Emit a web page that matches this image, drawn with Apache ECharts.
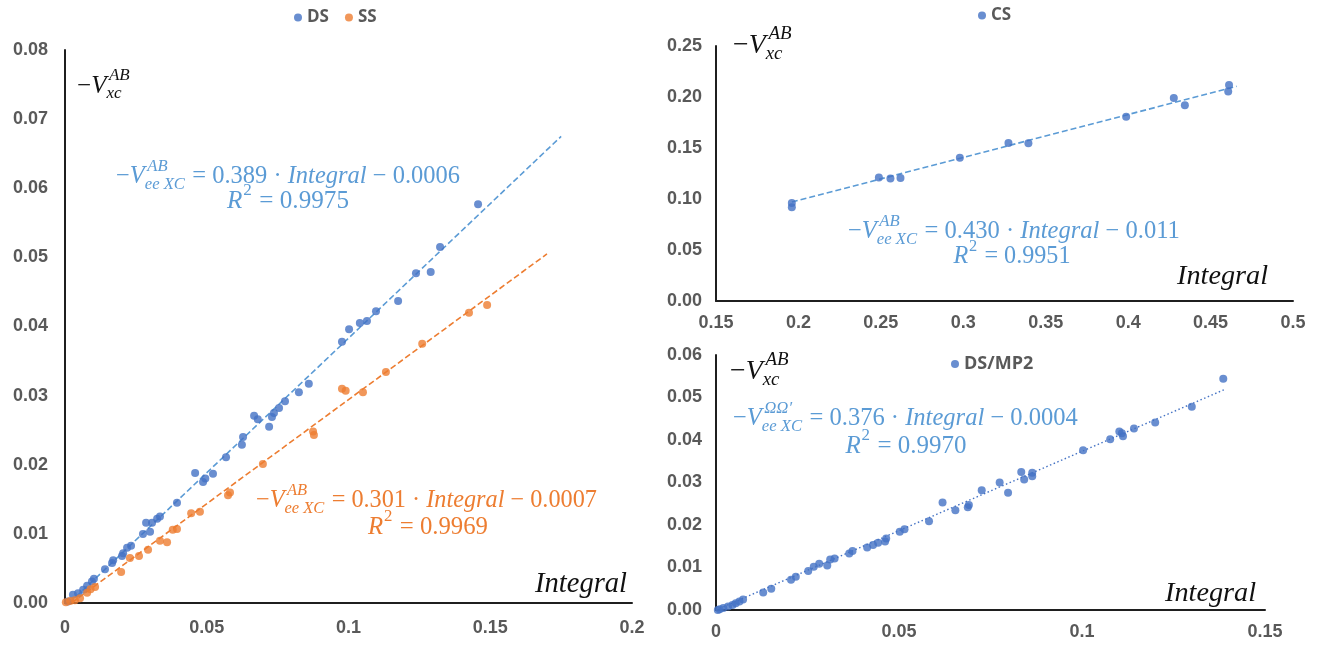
<!DOCTYPE html>
<html>
<head>
<meta charset="utf-8">
<script src="https://cdn.jsdelivr.net/npm/echarts@6/dist/echarts.min.js"></script>
<style>
html,body{margin:0;padding:0;background:#fff;}
#chart{width:1323px;height:645px;}
</style>
</head>
<body>
<div id="chart"></div>
<script>
// ---------- DATA ----------
const dsPoints = [
  [0.1457,0.0577],[0.1323,0.0515],[0.1290,0.0479],[0.1238,0.0477],[0.1175,0.0437],
  [0.1097,0.0422],[0.1065,0.0408],[0.1040,0.0405],[0.1002,0.0396],[0.0977,0.0378],
  [0.0860,0.0317],[0.0825,0.0305],[0.0776,0.0292],[0.0755,0.0282],[0.0737,0.0275],
  [0.0730,0.0269],[0.0720,0.0255],[0.0680,0.0266],[0.0667,0.0271],[0.0628,0.0240],
  [0.0624,0.0229],[0.0568,0.0211],[0.0522,0.0187],[0.0487,0.0175],[0.0495,0.0180],
  [0.0459,0.0188],[0.0395,0.0145],[0.0335,0.0125],[0.0325,0.0122],[0.0307,0.0116],
  [0.0286,0.0116],[0.0300,0.0103],[0.0275,0.0100],[0.0233,0.0083],[0.0219,0.0080],
  [0.0205,0.0072],[0.0201,0.0068],[0.0170,0.0062],[0.0166,0.0058],[0.0141,0.0049],
  [0.0102,0.0035],[0.0095,0.0031],[0.0078,0.0025],[0.0064,0.0019],[0.0046,0.0014],
  [0.0028,0.0012],[0.0010,0.0002]
];
const ssPoints = [
  [0.1489,0.0431],[0.1425,0.0420],[0.1260,0.0375],[0.1132,0.0334],[0.1051,0.0305],
  [0.0977,0.0310],[0.0990,0.0307],[0.0875,0.0248],[0.0878,0.0243],[0.0698,0.0201],
  [0.0582,0.0160],[0.0575,0.0156],[0.0476,0.0132],[0.0445,0.0130],[0.0395,0.0107],
  [0.0380,0.0106],[0.0360,0.0088],[0.0335,0.0090],[0.0293,0.0077],[0.0261,0.0068],
  [0.0229,0.0065],[0.0198,0.0045],[0.0106,0.0023],[0.0090,0.0020],[0.0078,0.0015],
  [0.0053,0.0007],[0.0035,0.0004],[0.0018,0.0003],[0.0003,0.0001]
];
const csPoints = [
  [0.196,0.0960],[0.196,0.0918],[0.2488,0.1210],[0.2558,0.1200],[0.2619,0.1205],
  [0.2979,0.1405],[0.3274,0.1550],[0.3395,0.1546],[0.3988,0.1806],[0.4277,0.1990],
  [0.4344,0.1920],[0.4612,0.2118],[0.4607,0.2053]
];
const mp2Points = [
  [0.1386,0.0544],[0.1300,0.0478],[0.1200,0.0441],[0.1142,0.0427],[0.1112,0.0409],
  [0.1109,0.0416],[0.1102,0.0420],[0.1077,0.0402],[0.1003,0.0376],[0.0864,0.0323],
  [0.0864,0.0315],[0.0842,0.0307],[0.0834,0.0325],[0.0798,0.0276],[0.0775,0.0300],
  [0.0726,0.0282],[0.0691,0.0247],[0.0688,0.0242],[0.0654,0.0235],[0.0619,0.0253],
  [0.0582,0.0209],[0.0515,0.0190],[0.0502,0.0184],[0.0465,0.0168],[0.0462,0.0161],
  [0.0443,0.0158],[0.0429,0.0153],[0.0413,0.0147],[0.0373,0.0139],[0.0364,0.0133],
  [0.0324,0.0121],[0.0312,0.0119],[0.0304,0.0105],[0.0282,0.0109],[0.0267,0.0102],
  [0.0252,0.0092],[0.0218,0.0078],[0.0205,0.0071],[0.0151,0.0050],[0.0129,0.0041],
  [0.0074,0.0025],[0.0064,0.0020],[0.0054,0.0016],[0.0045,0.0012],[0.0033,0.0008],
  [0.0020,0.0005],[0.0010,0.0002],[0.0005,0.0000]
];
// trendline end points
const dsTrend  = [[0.0016,0.0000],[0.1750,0.0675]];
const ssTrend  = [[0.0023,0.0000],[0.1700,0.0505]];
const csTrend  = [[0.1960,0.0970],[0.4658,0.2105]];
const mp2Trend = [[0.0000,0.0000],[0.1390,0.0519]];

const legendLeft = ['DS','SS'];
const legendTR = ['CS'];
const legendBR = ['DS/MP2'];

const eqDS  = {slope:'0.389', icpt:'0.0006', r2:'0.9975', sup:'AB'};
const eqSS  = {slope:'0.301', icpt:'0.0007', r2:'0.9969', sup:'AB'};
const eqCS  = {slope:'0.430', icpt:'0.011',  r2:'0.9951', sup:'AB'};
const eqMP2 = {slope:'0.376', icpt:'0.0004', r2:'0.9970', sup:'ΩΩ′'};

// ---------- styling ----------
const BLUE_PT = '#4472C4', ORANGE = '#ED7D31', BLUE_LN = '#5B9BD5';
const SERIF = '"Liberation Serif", "DejaVu Serif", serif';

const mctx = document.createElement('canvas').getContext('2d');
function fontStr(it, size){ return (it?'italic ':'') + size.toFixed(2) + 'px ' + SERIF; }
function measure(t, it, size){ mctx.font = fontStr(it,size); return mctx.measureText(t).width; }

function scriptW(p, size){
  const s = size*0.68;
  const off = p.supUp ? size*0.03 : size*0.10;
  const ws = p.sup ? measure(p.sup, p.supUp ? false : true, s) + off : 0;
  const wb = p.sub ? measure(p.sub, true, s) : 0;
  return Math.max(ws, wb) + size*0.05;
}
function mathWidth(parts, size){
  let w = 0;
  parts.forEach(p => {
    if (p.sup !== undefined || p.sub !== undefined) w += scriptW(p, size);
    else w += measure(p.t, p.it, size);
  });
  return w;
}
function placeMath(parts, o){
  let size = o.size;
  if (o.width) size = size * o.width / mathWidth(parts, size);
  const W = mathWidth(parts, size);
  let x = (o.cx !== undefined) ? o.cx - W/2 : o.x;
  const y = o.y, els = [];
  const mk = (t, it, s, xx, yy) => ({
    type:'text', x:xx, y:yy, silent:true,
    style:{text:t, font:fontStr(it,s), fill:o.color, textAlign:'left', textVerticalAlign:'middle', align:'left', verticalAlign:'middle'}
  });
  parts.forEach(p => {
    if (p.sup !== undefined || p.sub !== undefined) {
      const s = size*0.68;
      const off = p.supUp ? size*0.03 : size*0.10;
      if (p.sup) els.push(mk(p.sup, p.supUp ? false : true, s, x + off, y - size*0.42));
      if (p.sub) els.push(mk(p.sub, true, s, x, y + size*0.30));
      x += scriptW(p, size);
    } else {
      els.push(mk(p.t, p.it, size, x, y));
      x += measure(p.t, p.it, size);
    }
  });
  return els;
}
function eqParts(e){
  return [{t:'−'},{t:'V',it:true},{sup:e.sup, sub:'ee XC'},{t:' = ' + e.slope + ' · '},{t:'Integral',it:true},{t:' − ' + e.icpt}];
}
function r2Parts(e){ return [{t:'R',it:true},{sup:'2', supUp:true},{t:' = ' + e.r2}]; }
const vxc = [{t:'−'},{t:'V',it:true},{sup:'AB', sub:'xc'}];
const integ = [{t:'Integral',it:true}];

let graphics = [];
graphics = graphics.concat(
  placeMath(vxc, {x:77, y:86, size:22, width:54, color:'#111'}),
  placeMath(vxc, {x:733, y:46, size:22, width:60, color:'#111'}),
  placeMath(vxc, {x:730, y:372, size:22, width:60, color:'#111'}),
  placeMath(integ, {x:535, y:584, size:24, width:92, color:'#111'}),
  placeMath(integ, {x:1177, y:277, size:24, width:91, color:'#111'}),
  placeMath(integ, {x:1165, y:594, size:24, width:91, color:'#111'}),
  placeMath(eqParts(eqDS), {x:116, y:177, size:20, width:344, color:BLUE_LN}),
  placeMath(r2Parts(eqDS), {cx:288, y:201, size:20, width:122, color:BLUE_LN}),
  placeMath(eqParts(eqSS), {x:256, y:501, size:20, width:341, color:ORANGE}),
  placeMath(r2Parts(eqSS), {cx:428, y:527, size:20, width:120, color:ORANGE}),
  placeMath(eqParts(eqCS), {x:848, y:232, size:20, width:332, color:BLUE_LN}),
  placeMath(r2Parts(eqCS), {cx:1012, y:257, size:20, width:117, color:BLUE_LN}),
  placeMath(eqParts(eqMP2), {x:733, y:419, size:20, width:345, color:BLUE_LN}),
  placeMath(r2Parts(eqMP2), {cx:906, y:446, size:20, width:121, color:BLUE_LN})
);

const axisCommon = {
  axisLine:{show:true, onZero:false, lineStyle:{color:'#1f1f1f', width:2}},
  axisTick:{show:false},
  splitLine:{show:false},
};
const lblStyle = {color:'#595959', fontWeight:'bold', fontSize:18, fontFamily:'"Liberation Sans", Arial, sans-serif'};
function xAx(grid, min, max, interval, margin){
  return Object.assign({type:'value', gridIndex:grid, min, max, interval,
    axisLabel:Object.assign({margin, showMaxLabel:true, showMinLabel:true}, lblStyle)}, axisCommon);
}
function yAx(grid, min, max, interval, margin){
  return Object.assign({type:'value', gridIndex:grid, min, max, interval,
    axisLabel:Object.assign({margin, formatter:v=>v.toFixed(2), showMaxLabel:true, showMinLabel:true}, lblStyle)}, axisCommon);
}

const legendText = {color:'#595959', fontWeight:'bold', fontSize:17, fontFamily:'"Open Sans", sans-serif'};
const legendText2 = Object.assign({}, legendText, {fontSize:18});
const option = {
  animation:false,
  backgroundColor:'#fff',
  legend:[
    {data:legendLeft, left:289, top:4, icon:'circle', itemWidth:8, itemHeight:8, itemGap:16, textStyle:legendText},
    {data:legendTR, left:973, top:2, icon:'circle', itemWidth:8, itemHeight:8, textStyle:legendText},
    {data:legendBR, left:946, top:350, icon:'circle', itemWidth:8, itemHeight:8, textStyle:legendText2}
  ],
  grid:[
    {left:65, top:50, width:567, height:553},
    {left:716, top:46, width:577, height:255},
    {left:716, top:355, width:549, height:255}
  ],
  xAxis:[ xAx(0,0,0.2,0.05,16), xAx(1,0.15,0.5,0.05,13), xAx(2,0,0.15,0.05,13) ],
  yAxis:[ yAx(0,0,0.08,0.01,17), yAx(1,0,0.25,0.05,14), yAx(2,0,0.06,0.01,14) ],
  graphic:{elements:graphics},
  series:[
    {name:'DS trend', type:'line', xAxisIndex:0, yAxisIndex:0, data:dsTrend, showSymbol:false, silent:true, z:2,
      lineStyle:{color:BLUE_LN, width:1.6, type:[6,3]}},
    {name:'SS trend', type:'line', xAxisIndex:0, yAxisIndex:0, data:ssTrend, showSymbol:false, silent:true, z:2,
      lineStyle:{color:ORANGE, width:1.6, type:[6,3]}},
    {name:'CS trend', type:'line', xAxisIndex:1, yAxisIndex:1, data:csTrend, showSymbol:false, silent:true, z:2,
      lineStyle:{color:BLUE_LN, width:1.6, type:[6,3]}},
    {name:'DS/MP2 trend', type:'line', xAxisIndex:2, yAxisIndex:2, data:mp2Trend, showSymbol:false, silent:true, z:2,
      lineStyle:{color:BLUE_PT, width:1.4, type:[1.5,2.5]}},
    {name:'DS', type:'scatter', xAxisIndex:0, yAxisIndex:0, data:dsPoints, symbolSize:8, itemStyle:{color:BLUE_PT}, z:3},
    {name:'SS', type:'scatter', xAxisIndex:0, yAxisIndex:0, data:ssPoints, symbolSize:8, itemStyle:{color:ORANGE}, z:3},
    {name:'CS', type:'scatter', xAxisIndex:1, yAxisIndex:1, data:csPoints, symbolSize:8, itemStyle:{color:BLUE_PT}, z:3},
    {name:'DS/MP2', type:'scatter', xAxisIndex:2, yAxisIndex:2, data:mp2Points, symbolSize:8, itemStyle:{color:BLUE_PT}, z:3}
  ]
};
const chart = echarts.init(document.getElementById('chart'), null, {renderer:'canvas'});
chart.setOption(option);
</script>
</body>
</html>
